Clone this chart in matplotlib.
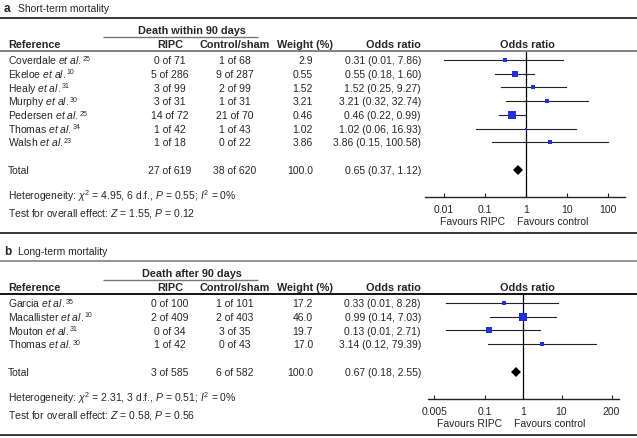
import numpy as np
import matplotlib.pyplot as plt

plt.rcParams['font.family'] = 'Liberation Sans'
plt.rcParams['mathtext.fontset'] = 'custom'
plt.rcParams['mathtext.rm'] = 'Liberation Sans'
plt.rcParams['mathtext.it'] = 'Liberation Sans:italic'
plt.rcParams['mathtext.bf'] = 'Liberation Sans:bold'

# ---- panel a: short-term mortality
studies_a = ['Coverdale', 'Ekeloe', 'Healy', 'Murphy', 'Pedersen', 'Thomas', 'Walsh']
refs_a = [25, 10, 31, 30, 25, 34, 23]
ripc_events_a = [0, 5, 3, 3, 14, 1, 1]
ripc_n_a = [71, 286, 99, 31, 72, 42, 18]
ctrl_events_a = [1, 9, 2, 1, 21, 1, 0]
ctrl_n_a = [68, 287, 99, 31, 70, 43, 22]
weight_a = ['2.9', '0.55', '1.52', '3.21', '0.46', '1.02', '3.86']
or_a = [0.31, 0.55, 1.52, 3.21, 0.46, 1.02, 3.86]
lo_a = [0.01, 0.18, 0.25, 0.32, 0.22, 0.06, 0.15]
hi_a = [7.86, 1.60, 9.27, 32.74, 0.99, 16.93, 100.58]
box_weight_a = [9, 26, 7, 9, 58, 6, 9]   # relative box weight as drawn
total_a = dict(re=27, rn=619, ce=38, cn=620, w='100.0', est=0.65, lo=0.37, hi=1.12)
stats_a = [r'Heterogeneity: $\mathit{\chi}^2$ = 4.95, 6 d.f., $\mathit{P}$ = 0.55; $\mathit{I}^2$ = 0%',
           r'Test for overall effect: $\mathit{Z}$ = 1.55, $\mathit{P}$ = 0.12']
ticks_a = [0.01, 0.1, 1, 10, 100]
ticklabels_a = ['0.01', '0.1', '1', '10', '100']

# ---- panel b: long-term mortality
studies_b = ['Garcia', 'Macallister', 'Mouton', 'Thomas']
refs_b = [35, 10, 31, 30]
ripc_events_b = [0, 2, 0, 1]
ripc_n_b = [100, 409, 34, 42]
ctrl_events_b = [1, 2, 3, 0]
ctrl_n_b = [101, 403, 35, 43]
weight_b = ['17.2', '46.0', '19.7', '17.0']
or_b = [0.33, 0.99, 0.13, 3.14]
lo_b = [0.01, 0.14, 0.01, 0.12]
hi_b = [8.28, 7.03, 2.71, 79.39]
box_weight_b = [17.2, 46.0, 19.7, 17.0]
total_b = dict(re=3, rn=585, ce=6, cn=582, w='100.0', est=0.67, lo=0.18, hi=2.55)
stats_b = [r'Heterogeneity: $\mathit{\chi}^2$ = 2.31, 3 d.f., $\mathit{P}$ = 0.51; $\mathit{I}^2$ = 0%',
           r'Test for overall effect: $\mathit{Z}$ = 0.58, $\mathit{P}$ = 0.56']
ticks_b = [0.005, 0.1, 1, 10, 200]
ticklabels_b = ['0.005', '0.1', '1', '10', '200']

W, H = 637, 439
fig = plt.figure(figsize=(W / 100, H / 100), dpi=100)
ax = fig.add_axes([0, 0, 1, 1])
ax.set_xlim(0, W)
ax.set_ylim(H, 0)
ax.axis('off')
renderer = fig.canvas.get_renderer()

TXT = '#262626'
FS = 7.5
HFS = 7.8
BLUE = '#2130d8'


def txt(x, y, s, ha='left', **kw):
    return ax.text(x, y + 3.3, s, ha=ha, va='baseline', fontsize=kw.pop('fontsize', FS),
                   color=kw.pop('color', TXT), **kw)


def hline(y, x0=0, x1=W, color='black', lw=1.1):
    ax.plot([x0, x1], [y, y], color=color, lw=lw, solid_capstyle='butt')


def study_label(y, name, ref):
    t = txt(8, y, name + r' $\mathit{et\ al.}$')
    bb = t.get_window_extent(renderer)
    x_end = ax.transData.inverted().transform((bb.x1, bb.y1))[0]
    txt(x_end + 0.8, y - 3.5, str(ref), fontsize=5)


def panel(top, letter, title, group_label, studies, refs, re, rn, ce, cn, weights,
          ors, los, his, boxw, total, stats, ticks, ticklabels, one_px, dec_px, ax_x0, ax_x1,
          top_color, head_color):
    # header block
    txt(4, top - 10, letter, fontweight='bold', fontsize=8.5)
    txt(18, top - 10, title, fontsize=7.5)
    hline(top, color=top_color)
    txt(192, top + 12, group_label, ha='center', fontweight='bold', fontsize=HFS)
    hline(top + 19, 103, 258, color='#777777', lw=1.0)
    hy = top + 26
    for x, s, ha in [(8, 'Reference', 'left'), (170, 'RIPC', 'center'),
                     (235, 'Control/sham', 'center'), (305, 'Weight (%)', 'center'),
                     (393, 'Odds ratio', 'center'), (527, 'Odds ratio', 'center')]:
        txt(x, hy, s, ha=ha, fontweight='bold', fontsize=HFS)
    hline(top + 33, color=head_color, lw=1.3)

    row0 = top + 42
    dy = 13.7
    rows = row0 + dy * np.arange(len(studies))
    for i, y in enumerate(rows):
        study_label(y, studies[i], refs[i])
        txt(170, y, f'{re[i]} of {rn[i]}', ha='center')
        txt(235, y, f'{ce[i]} of {cn[i]}', ha='center')
        txt(313, y, weights[i], ha='right')
        txt(421, y, f'{ors[i]:.2f} ({los[i]:.2f}, {his[i]:.2f})', ha='right')
    ty = rows[-1] + 28
    txt(8, ty, 'Total')
    txt(170, ty, f"{total['re']} of {total['rn']}", ha='center')
    txt(235, ty, f"{total['ce']} of {total['cn']}", ha='center')
    txt(313, ty, total['w'], ha='right')
    txt(421, ty, f"{total['est']:.2f} ({total['lo']:.2f}, {total['hi']:.2f})", ha='right')
    txt(8, ty + 26, stats[0])
    txt(8, ty + 42, stats[1])

    # forest plot axes in pixel space
    y_top, y_bot = top + 34, ty + 27
    fax = fig.add_axes([ax_x0 / W, 1 - y_bot / H, (ax_x1 - ax_x0) / W, (y_bot - y_top) / H])
    fax.set_xscale('log')
    fax.set_xlim(10 ** ((ax_x0 - one_px) / dec_px), 10 ** ((ax_x1 - one_px) / dec_px))
    fax.set_ylim(y_bot, y_top)
    fax.patch.set_alpha(0)
    for s in ['top', 'left', 'right']:
        fax.spines[s].set_visible(False)
    fax.spines['bottom'].set_linewidth(1.0)
    fax.spines['bottom'].set_color('#222222')
    fax.set_yticks([])
    fax.set_xticks(ticks)
    fax.set_xticklabels(ticklabels)
    fax.minorticks_off()
    fax.tick_params(axis='x', direction='in', length=3, width=0.8, labelsize=FS,
                    pad=5, colors='#222222', labelcolor=TXT)
    fax.axvline(1, color='black', lw=0.9)
    for i, y in enumerate(rows):
        fax.plot([los[i], his[i]], [y, y], color='#222222', lw=0.8)
        side = 1.18 * np.sqrt(boxw[i]) * 0.72
        fax.plot(ors[i], y, marker='s', ms=side, color=BLUE, mec=BLUE, mew=0)
    fax.plot(total['est'], ty, marker='D', ms=5.2, color='black', mew=0)

    txt(one_px - 21, ty + 51, 'Favours RIPC', ha='right')
    txt(one_px - 9, ty + 51, 'Favours control', ha='left')
    hline(ty + 63)


panel(19, 'a', 'Short-term mortality', 'Death within 90 days', studies_a, refs_a,
      ripc_events_a, ripc_n_a, ctrl_events_a, ctrl_n_a, weight_a, or_a, lo_a, hi_a,
      box_weight_a, total_a, stats_a, ticks_a, ticklabels_a, 526, 41, 425, 625,
      'black', '#777777')
panel(262, 'b', 'Long-term mortality', 'Death after 90 days', studies_b, refs_b,
      ripc_events_b, ripc_n_b, ctrl_events_b, ctrl_n_b, weight_b, or_b, lo_b, hi_b,
      box_weight_b, total_b, stats_b, ticks_b, ticklabels_b, 523, 38.5, 428, 619,
      '#777777', 'black')

fig.savefig('out.png', dpi=100)
